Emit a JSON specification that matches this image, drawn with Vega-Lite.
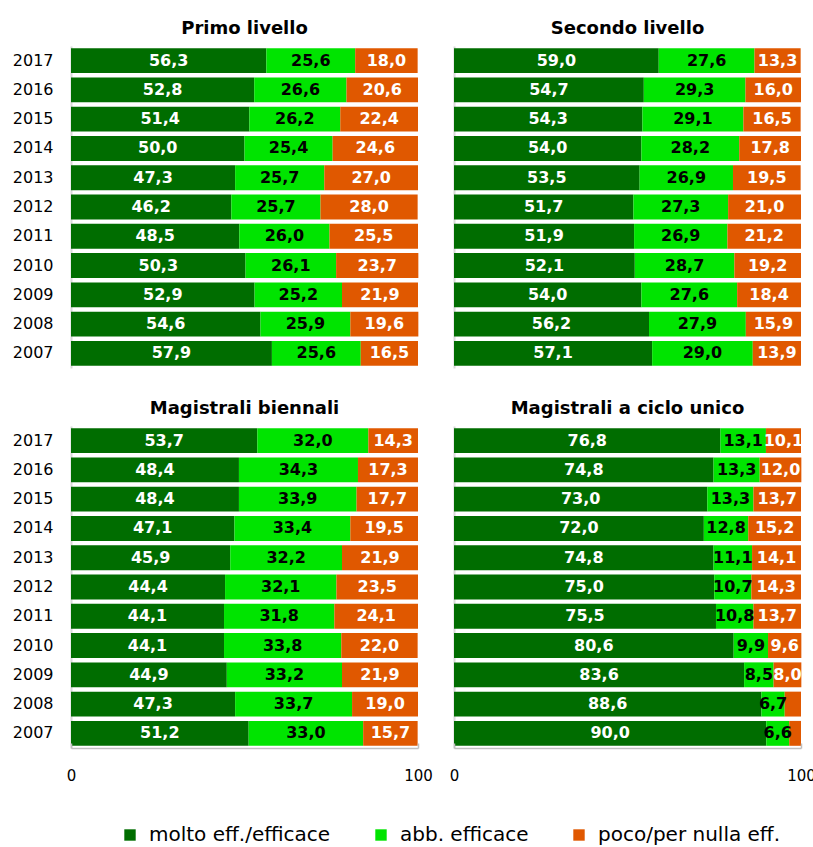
{
  "$schema": "https://vega.github.io/schema/vega-lite/v6.json",
  "padding": {"left": 12, "top": 20, "right": 0, "bottom": 0},
  "config": {
    "view": {"stroke": null},
    "locale": {"number": {"decimal": ",", "thousands": ".", "grouping": [3], "currency": ["", " €"]}},
    "font": "DejaVu Sans",
    "title": {"fontSize": 18, "font": "DejaVu Sans", "fontWeight": "bold", "offset": 8, "color": "#000000"}
  },
  "data": {"values": [
    {"p": "Primo livello", "y": 2017, "a": 56.3, "b": 25.6, "c": 18.0},
    {"p": "Primo livello", "y": 2016, "a": 52.8, "b": 26.6, "c": 20.6},
    {"p": "Primo livello", "y": 2015, "a": 51.4, "b": 26.2, "c": 22.4},
    {"p": "Primo livello", "y": 2014, "a": 50.0, "b": 25.4, "c": 24.6},
    {"p": "Primo livello", "y": 2013, "a": 47.3, "b": 25.7, "c": 27.0},
    {"p": "Primo livello", "y": 2012, "a": 46.2, "b": 25.7, "c": 28.0},
    {"p": "Primo livello", "y": 2011, "a": 48.5, "b": 26.0, "c": 25.5},
    {"p": "Primo livello", "y": 2010, "a": 50.3, "b": 26.1, "c": 23.7},
    {"p": "Primo livello", "y": 2009, "a": 52.9, "b": 25.2, "c": 21.9},
    {"p": "Primo livello", "y": 2008, "a": 54.6, "b": 25.9, "c": 19.6},
    {"p": "Primo livello", "y": 2007, "a": 57.9, "b": 25.6, "c": 16.5},
    {"p": "Secondo livello", "y": 2017, "a": 59.0, "b": 27.6, "c": 13.3},
    {"p": "Secondo livello", "y": 2016, "a": 54.7, "b": 29.3, "c": 16.0},
    {"p": "Secondo livello", "y": 2015, "a": 54.3, "b": 29.1, "c": 16.5},
    {"p": "Secondo livello", "y": 2014, "a": 54.0, "b": 28.2, "c": 17.8},
    {"p": "Secondo livello", "y": 2013, "a": 53.5, "b": 26.9, "c": 19.5},
    {"p": "Secondo livello", "y": 2012, "a": 51.7, "b": 27.3, "c": 21.0},
    {"p": "Secondo livello", "y": 2011, "a": 51.9, "b": 26.9, "c": 21.2},
    {"p": "Secondo livello", "y": 2010, "a": 52.1, "b": 28.7, "c": 19.2},
    {"p": "Secondo livello", "y": 2009, "a": 54.0, "b": 27.6, "c": 18.4},
    {"p": "Secondo livello", "y": 2008, "a": 56.2, "b": 27.9, "c": 15.9},
    {"p": "Secondo livello", "y": 2007, "a": 57.1, "b": 29.0, "c": 13.9},
    {"p": "Magistrali biennali", "y": 2017, "a": 53.7, "b": 32.0, "c": 14.3},
    {"p": "Magistrali biennali", "y": 2016, "a": 48.4, "b": 34.3, "c": 17.3},
    {"p": "Magistrali biennali", "y": 2015, "a": 48.4, "b": 33.9, "c": 17.7},
    {"p": "Magistrali biennali", "y": 2014, "a": 47.1, "b": 33.4, "c": 19.5},
    {"p": "Magistrali biennali", "y": 2013, "a": 45.9, "b": 32.2, "c": 21.9},
    {"p": "Magistrali biennali", "y": 2012, "a": 44.4, "b": 32.1, "c": 23.5},
    {"p": "Magistrali biennali", "y": 2011, "a": 44.1, "b": 31.8, "c": 24.1},
    {"p": "Magistrali biennali", "y": 2010, "a": 44.1, "b": 33.8, "c": 22.0},
    {"p": "Magistrali biennali", "y": 2009, "a": 44.9, "b": 33.2, "c": 21.9},
    {"p": "Magistrali biennali", "y": 2008, "a": 47.3, "b": 33.7, "c": 19.0},
    {"p": "Magistrali biennali", "y": 2007, "a": 51.2, "b": 33.0, "c": 15.7},
    {"p": "Magistrali a ciclo unico", "y": 2017, "a": 76.8, "b": 13.1, "c": 10.1},
    {"p": "Magistrali a ciclo unico", "y": 2016, "a": 74.8, "b": 13.3, "c": 12.0},
    {"p": "Magistrali a ciclo unico", "y": 2015, "a": 73.0, "b": 13.3, "c": 13.7},
    {"p": "Magistrali a ciclo unico", "y": 2014, "a": 72.0, "b": 12.8, "c": 15.2},
    {"p": "Magistrali a ciclo unico", "y": 2013, "a": 74.8, "b": 11.1, "c": 14.1},
    {"p": "Magistrali a ciclo unico", "y": 2012, "a": 75.0, "b": 10.7, "c": 14.3},
    {"p": "Magistrali a ciclo unico", "y": 2011, "a": 75.5, "b": 10.8, "c": 13.7},
    {"p": "Magistrali a ciclo unico", "y": 2010, "a": 80.6, "b": 9.9, "c": 9.6},
    {"p": "Magistrali a ciclo unico", "y": 2009, "a": 83.6, "b": 8.5, "c": 8.0},
    {"p": "Magistrali a ciclo unico", "y": 2008, "a": 88.6, "b": 6.7, "c": 4.7},
    {"p": "Magistrali a ciclo unico", "y": 2007, "a": 90.0, "b": 6.6, "c": 3.4}
  ]},
  "transform": [{"fold": ["a", "b", "c"], "as": ["k", "v"]}],
  "columns": 2,
  "bounds": "flush",
  "spacing": {"row": 58, "column": 36},
  "concat": [
    {
      "title": "Primo livello",
      "width": 347, "height": 322,
      "transform": [{"filter": "datum.p == 'Primo livello'"}],
      "encoding": {"y": {"field": "y", "type": "ordinal", "sort": "descending", "title": null,
        "scale": {"paddingInner": 0.15, "paddingOuter": 0.075},
        "axis": {"domainColor": "#d9d9d9", "domainWidth": 2, "ticks": false, "labelPadding": 18, "labelFontSize": 16, "labelFont": "DejaVu Sans", "labelColor": "#000000"}}},
      "layer": [
        {"mark": {"type": "bar"},
         "encoding": {
           "x": {"field": "v", "type": "quantitative", "stack": "zero", "scale": {"domain": [0, 100], "nice": false}, "axis": null},
           "order": {"field": "k", "type": "nominal"},
           "color": {"field": "k", "type": "nominal", "scale": {"domain": ["a", "b", "c"], "range": ["#006d00", "#00e400", "#e05800"]},
             "legend": {"orient": "none", "legendX": 49, "legendY": 779, "direction": "horizontal", "title": null, "labelFontSize": 20, "labelLimit": 0, "labelOffset": 9, "labelFont": "DejaVu Sans", "labelColor": "#000000", "symbolType": "square", "symbolSize": 130, "symbolStrokeWidth": 0, "columnPadding": 40,
               "labelExpr": "datum.label == 'a' ? 'molto eff./efficace' : datum.label == 'b' ? 'abb. efficace' : 'poco/per nulla eff.'"}}
         }},
        {"transform": [{"filter": "datum.v >= 5"}],
         "mark": {"type": "text", "font": "DejaVu Sans", "fontWeight": "bold", "fontSize": 16, "baseline": "middle"},
         "encoding": {
           "x": {"field": "v", "type": "quantitative", "stack": "zero", "bandPosition": 0.5},
           "detail": {"field": "k", "type": "nominal"},
           "order": {"field": "k", "type": "nominal"},
           "text": {"field": "v", "type": "quantitative", "format": ".1f"},
           "color": {"condition": {"test": "datum.k == 'b'", "value": "#000000"}, "value": "#ffffff"}
         }}
      ]
    },
    {
      "title": "Secondo livello",
      "width": 347, "height": 322,
      "transform": [{"filter": "datum.p == 'Secondo livello'"}],
      "encoding": {"y": {"field": "y", "type": "ordinal", "sort": "descending", "title": null,
        "scale": {"paddingInner": 0.15, "paddingOuter": 0.075},
        "axis": {"domainColor": "#d9d9d9", "domainWidth": 2, "ticks": false, "labels": false}}},
      "layer": [
        {"mark": {"type": "bar"},
         "encoding": {
           "x": {"field": "v", "type": "quantitative", "stack": "zero", "scale": {"domain": [0, 100], "nice": false}, "axis": null},
           "order": {"field": "k", "type": "nominal"},
           "color": {"field": "k", "type": "nominal"}
         }},
        {"transform": [{"filter": "datum.v >= 5"}],
         "mark": {"type": "text", "font": "DejaVu Sans", "fontWeight": "bold", "fontSize": 16, "baseline": "middle"},
         "encoding": {
           "x": {"field": "v", "type": "quantitative", "stack": "zero", "bandPosition": 0.5},
           "detail": {"field": "k", "type": "nominal"},
           "order": {"field": "k", "type": "nominal"},
           "text": {"field": "v", "type": "quantitative", "format": ".1f"},
           "color": {"condition": {"test": "datum.k == 'b'", "value": "#000000"}, "value": "#ffffff"}
         }}
      ]
    },
    {
      "title": "Magistrali biennali",
      "width": 347, "height": 322,
      "transform": [{"filter": "datum.p == 'Magistrali biennali'"}],
      "encoding": {"y": {"field": "y", "type": "ordinal", "sort": "descending", "title": null,
        "scale": {"paddingInner": 0.15, "paddingOuter": 0.075},
        "axis": {"domainColor": "#d9d9d9", "domainWidth": 2, "ticks": false, "labelPadding": 18, "labelFontSize": 16, "labelFont": "DejaVu Sans", "labelColor": "#000000"}}},
      "layer": [
        {"mark": {"type": "bar"},
         "encoding": {
           "x": {"field": "v", "type": "quantitative", "stack": "zero", "scale": {"domain": [0, 100], "nice": false},
             "axis": {"values": [0, 100], "title": null, "grid": false, "zindex": 1, "domainColor": "#bfbfbf", "domainWidth": 1.5, "ticks": true, "tickColor": "#bfbfbf", "tickWidth": 1.5, "tickSize": -5, "labelPadding": 25, "labelFontSize": 15, "labelFont": "DejaVu Sans", "labelColor": "#000000", "labelFlush": false, "labelOverlap": false}},
           "order": {"field": "k", "type": "nominal"},
           "color": {"field": "k", "type": "nominal"}
         }},
        {"transform": [{"filter": "datum.v >= 5"}],
         "mark": {"type": "text", "font": "DejaVu Sans", "fontWeight": "bold", "fontSize": 16, "baseline": "middle"},
         "encoding": {
           "x": {"field": "v", "type": "quantitative", "stack": "zero", "bandPosition": 0.5},
           "detail": {"field": "k", "type": "nominal"},
           "order": {"field": "k", "type": "nominal"},
           "text": {"field": "v", "type": "quantitative", "format": ".1f"},
           "color": {"condition": {"test": "datum.k == 'b'", "value": "#000000"}, "value": "#ffffff"}
         }}
      ]
    },
    {
      "title": "Magistrali a ciclo unico",
      "width": 347, "height": 322,
      "transform": [{"filter": "datum.p == 'Magistrali a ciclo unico'"}],
      "encoding": {"y": {"field": "y", "type": "ordinal", "sort": "descending", "title": null,
        "scale": {"paddingInner": 0.15, "paddingOuter": 0.075},
        "axis": {"domainColor": "#d9d9d9", "domainWidth": 2, "ticks": false, "labels": false}}},
      "layer": [
        {"mark": {"type": "bar"},
         "encoding": {
           "x": {"field": "v", "type": "quantitative", "stack": "zero", "scale": {"domain": [0, 100], "nice": false},
             "axis": {"values": [0, 100], "title": null, "grid": false, "zindex": 1, "domainColor": "#bfbfbf", "domainWidth": 1.5, "ticks": true, "tickColor": "#bfbfbf", "tickWidth": 1.5, "tickSize": -5, "labelPadding": 25, "labelFontSize": 15, "labelFont": "DejaVu Sans", "labelColor": "#000000", "labelFlush": false, "labelOverlap": false}},
           "order": {"field": "k", "type": "nominal"},
           "color": {"field": "k", "type": "nominal"}
         }},
        {"transform": [{"filter": "datum.v >= 5"}],
         "mark": {"type": "text", "font": "DejaVu Sans", "fontWeight": "bold", "fontSize": 16, "baseline": "middle"},
         "encoding": {
           "x": {"field": "v", "type": "quantitative", "stack": "zero", "bandPosition": 0.5},
           "detail": {"field": "k", "type": "nominal"},
           "order": {"field": "k", "type": "nominal"},
           "text": {"field": "v", "type": "quantitative", "format": ".1f"},
           "color": {"condition": {"test": "datum.k == 'b'", "value": "#000000"}, "value": "#ffffff"}
         }}
      ]
    }
  ]
}
